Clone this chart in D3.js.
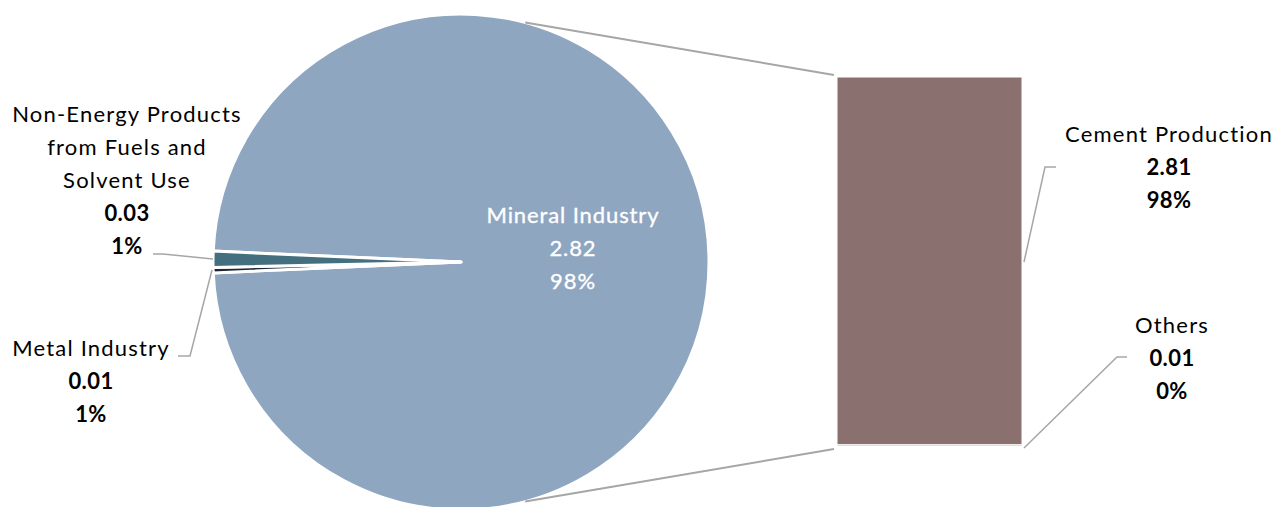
<!DOCTYPE html>
<html>
<head>
<meta charset="utf-8">
<script src="https://cdn.jsdelivr.net/npm/d3@7"></script>
<style>
  body { margin: 0; background: #fff; }
  svg text { font-family: Lato, "Open Sans", sans-serif; font-size: 22px; }
</style>
</head>
<body>
<svg width="1280" height="507"></svg>
<script>
// pie slices (order matters: clockwise from the top)
var pieNames = ["Mineral Industry", "Metal Industry", "Non-Energy Products from Fuels and Solvent Use"];
var pieValues = [2.82, 0.01, 0.03];
var pieShares = ["98%", "1%", "1%"];
var pieColors = ["#8fa6c1", "#1e2535", "#436f7f"];

// bar breakdown of the Mineral Industry slice (bottom to top)
var barNames = ["Others", "Cement Production"];
var barValues = [0.01, 2.81];
var barShares = ["0%", "98%"];

var svg = d3.select("svg");

var cx = 461, cy = 262, r = 248;
var total = d3.sum(pieValues);
var bigAngle = pieValues[0] / total * 2 * Math.PI;

// big slice centred on the right side, small ones on the left
var pie = d3.pie().sort(null)
    .startAngle(Math.PI / 2 - bigAngle / 2)
    .endAngle(Math.PI / 2 - bigAngle / 2 + 2 * Math.PI);
var arc = d3.arc().innerRadius(0).outerRadius(r);

var pieG = svg.append("g").attr("transform", "translate(" + cx + "," + cy + ")");
pieG.selectAll("path")
    .data(pie(pieValues))
    .enter().append("path")
    .attr("d", arc)
    .style("fill", function(d, i) { return pieColors[i]; })
    .style("stroke", "#fff")
    .style("stroke-width", 3)
    .style("stroke-linejoin", "round");

// bar
var barX = 837, barW = 185;
var y = d3.scaleLinear().domain([0, d3.sum(barValues)]).range([446, 77]);
var stack = [];
var acc = 0;
barValues.forEach(function(v, i) { stack.push({name: barNames[i], y0: acc, y1: acc + v}); acc += v; });

svg.selectAll(".seg")
    .data(stack)
    .enter().append("rect")
    .attr("class", "seg")
    .attr("x", barX)
    .attr("width", barW)
    .attr("y", function(d) { return y(d.y1); })
    .attr("height", function(d) { return y(d.y0) - y(d.y1); })
    .style("fill", "#8a7170")
    .style("stroke", "#fff")
    .style("stroke-width", 1);

// connectors between pie and bar
function onCircle(a) { return [cx + r * Math.sin(a), cy - r * Math.cos(a)]; }
var topPt = onCircle(15 * Math.PI / 180), botPt = onCircle(165 * Math.PI / 180);
var conn = [
  [topPt, [barX - 3, y(d3.sum(barValues)) - 2]],
  [botPt, [barX - 3, y(0) + 3]]
];
svg.selectAll(".conn")
    .data(conn)
    .enter().append("line")
    .attr("class", "conn")
    .attr("x1", function(d) { return d[0][0]; })
    .attr("y1", function(d) { return d[0][1]; })
    .attr("x2", function(d) { return d[1][0]; })
    .attr("y2", function(d) { return d[1][1]; })
    .style("stroke", "#a6a6a6")
    .style("stroke-width", 2);

// leader lines
var leaders = [
  [[153, 254], [163, 254], [213, 259]],
  [[178, 356], [190, 356], [212, 270]],
  [[1056, 167], [1045, 167], [1024, 262]],
  [[1127, 357], [1117, 357], [1024, 448]]
];
svg.selectAll(".leader")
    .data(leaders)
    .enter().append("path")
    .attr("class", "leader")
    .attr("d", d3.line())
    .style("fill", "none")
    .style("stroke", "#a6a6a6")
    .style("stroke-width", 1.5);

// labels
function label(x, yTop, lines, color, heavy) {
  var t = svg.append("text")
      .attr("x", x)
      .attr("y", yTop)
      .style("text-anchor", "middle")
      .style("fill", color);
  lines.forEach(function(l, i) {
    var s = t.append("tspan")
      .attr("x", x)
      .attr("y", yTop + i * 33)
      .style("font-weight", l.bold ? "bold" : "normal")
      .style("letter-spacing", l.bold ? "0.4px" : (heavy ? "0.9px" : "1.2px"))
      .text(l.text);
    if (heavy) s.style("stroke", color).style("stroke-width", 0.35);
  });
}

label(573, 223, [
  {text: pieNames[0]}, {text: pieValues[0].toFixed(2)}, {text: pieShares[0]}
], "#fff", true);

label(127, 122, [
  {text: "Non-Energy Products"}, {text: "from Fuels and"}, {text: "Solvent Use"},
  {text: pieValues[2].toFixed(2), bold: true}, {text: pieShares[2], bold: true}
], "#000");

label(91, 356, [
  {text: pieNames[1]}, {text: pieValues[1].toFixed(2), bold: true}, {text: pieShares[1], bold: true}
], "#000");

label(1169, 142, [
  {text: barNames[1]}, {text: barValues[1].toFixed(2), bold: true}, {text: barShares[1], bold: true}
], "#000");

label(1172, 333, [
  {text: barNames[0]}, {text: barValues[0].toFixed(2), bold: true}, {text: barShares[0], bold: true}
], "#000");
</script>
</body>
</html>
